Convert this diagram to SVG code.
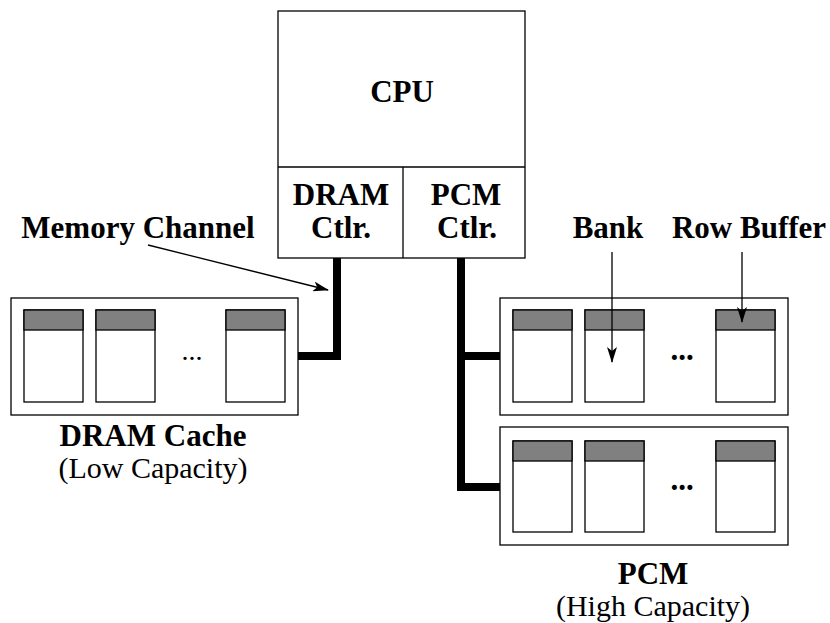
<svg xmlns="http://www.w3.org/2000/svg" width="830" height="623" viewBox="0 0 830 623">
<style>
.box{fill:#fff;stroke:#000;stroke-width:1.3}
.bank{fill:#fff;stroke:#000;stroke-width:1.3}
.rb{fill:#808080;stroke:#000;stroke-width:1.3}
.bus{fill:none;stroke:#000;stroke-width:8;stroke-linejoin:miter}
.ptr{fill:none;stroke:#000;stroke-width:1.3}
.b{font-family:"Liberation Serif","Times New Roman",serif;font-weight:bold;font-size:31px;text-anchor:middle;fill:#000}
.r{font-family:"Liberation Serif","Times New Roman",serif;font-size:30px;text-anchor:middle;fill:#000}
.dots{font-family:"Liberation Serif","Times New Roman",serif;font-size:28px;text-anchor:middle;fill:#000}
</style>
<defs>
<marker id="ah" markerWidth="16" markerHeight="10" refX="15" refY="5" orient="auto" markerUnits="userSpaceOnUse">
<path d="M0,0 L16,5 L0,10 L4,5 z" fill="#000"/>
</marker>
</defs>
<g id="cpu">
<rect class="box" x="278" y="11" width="247" height="247"/>
<line class="ptr" x1="278" y1="167" x2="525" y2="167"/>
<line class="ptr" x1="403" y1="167" x2="403" y2="258"/>
<text class="b" x="402" y="102">CPU</text>
</g>
<g id="dram-ctlr">
<text class="b" x="341" y="205">DRAM</text>
<text class="b" x="341" y="238">Ctlr.</text>
</g>
<g id="pcm-ctlr">
<text class="b" x="466" y="205">PCM</text>
<text class="b" x="467" y="238">Ctlr.</text>
</g>
<g id="dram-cache">
<rect class="box" x="11" y="298" width="287" height="117"/>
<rect class="bank" x="24" y="310" width="59" height="92"/>
<rect class="rb" x="24" y="310" width="59" height="20"/>
<rect class="bank" x="96" y="310" width="59" height="92"/>
<rect class="rb" x="96" y="310" width="59" height="20"/>
<rect class="bank" x="226" y="310" width="59" height="92"/>
<rect class="rb" x="226" y="310" width="59" height="20"/>
<text class="dots" x="192" y="360">...</text>
<text class="b" x="153" y="446">DRAM Cache</text>
<text class="r" x="153" y="478">(Low Capacity)</text>
</g>
<g id="pcm-upper">
<rect class="box" x="500" y="298" width="288" height="117"/>
<rect class="bank" x="513" y="310" width="59" height="92"/>
<rect class="rb" x="513" y="310" width="59" height="20"/>
<rect class="bank" x="585" y="310" width="59" height="92"/>
<rect class="rb" x="585" y="310" width="59" height="20"/>
<rect class="bank" x="716" y="310" width="59" height="92"/>
<rect class="rb" x="716" y="310" width="59" height="20"/>
<text class="b" x="682" y="360">...</text>
</g>
<g id="pcm-lower">
<rect class="box" x="500" y="427" width="288" height="118"/>
<rect class="bank" x="513" y="441" width="59" height="91"/>
<rect class="rb" x="513" y="441" width="59" height="20"/>
<rect class="bank" x="585" y="441" width="59" height="91"/>
<rect class="rb" x="585" y="441" width="59" height="20"/>
<rect class="bank" x="716" y="441" width="59" height="91"/>
<rect class="rb" x="716" y="441" width="59" height="20"/>
<text class="b" x="682" y="490">...</text>
<text class="b" x="653" y="584">PCM</text>
<text class="r" x="653" y="616">(High Capacity)</text>
</g>
<g id="labels">
<text class="b" x="138" y="238">Memory Channel</text>
<text class="b" x="608" y="238">Bank</text>
<text class="b" x="749" y="238">Row Buffer</text>
</g>
<g id="connectors">
<polyline class="bus" points="337,258 337,356 298,356"/>
<polyline class="bus" points="461,258 461,487 500,487"/>
<line class="bus" x1="461" y1="356" x2="500" y2="356"/>
<line class="ptr" x1="148" y1="245" x2="328" y2="290" marker-end="url(#ah)"/>
<line class="ptr" x1="612" y1="252" x2="612" y2="362" marker-end="url(#ah)"/>
<line class="ptr" x1="742" y1="252" x2="742" y2="322" marker-end="url(#ah)"/>
</g>
</svg>
